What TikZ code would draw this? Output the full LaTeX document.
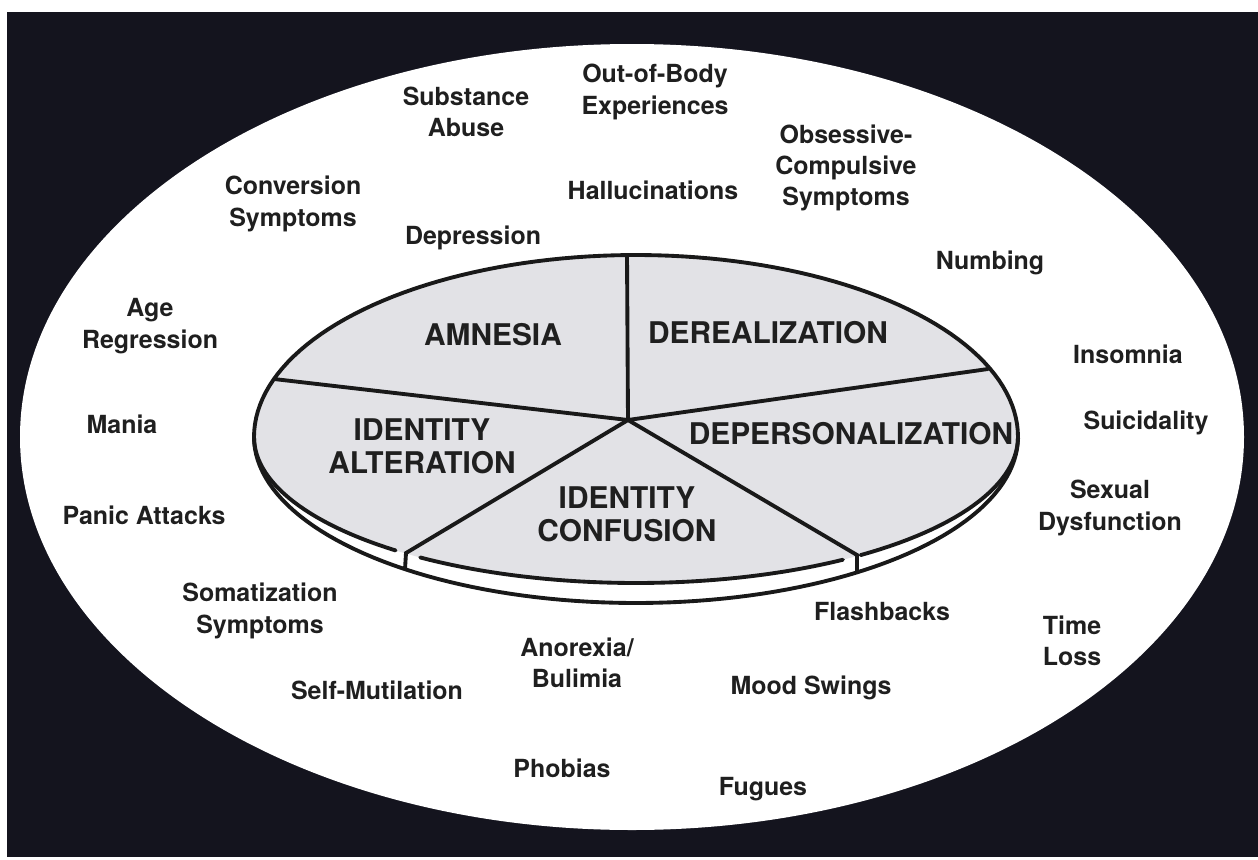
\documentclass[tikz,border=0pt]{standalone}
\usepackage{fontspec}
\setmainfont{TeX Gyre Heros}
\usepackage{tikz}
\definecolor{backdrop}{RGB}{20,20,30}
\definecolor{stipple}{RGB}{226,226,230}

\begin{document}
\begin{tikzpicture}[x=0.02cm, y=-0.02cm,
        symptom/.style={font=\fontsize{14.2}{17.8}\selectfont\bfseries, align=center, text=black!88},
        facet/.style={font=\fontsize{17}{19}\selectfont\bfseries, align=center, text=black!88},
        rim/.style={line width=2.2pt, line cap=round, draw=black!90}]
        \useasboundingbox (0,0) rectangle (1258,859);
        \fill[backdrop] (7,12) rectangle (1258,857);
        \fill[white] (632,437) ellipse [x radius=612, y radius=393];

        % pie corners
        \coordinate (c) at (628,420);
        \coordinate (e1) at (627,255);
        \coordinate (e2) at (274,379);
        \coordinate (e3) at (406,553);
        \coordinate (e4) at (857,555);
        \coordinate (e5) at (988,369);
        \coordinate (b3) at (405,569);
        \coordinate (b4) at (857,572);

        % top face of the pie
        \fill[stipple] plot[domain=0:180, samples=90] ({636+382*cos(\x)}, {437-182*sin(\x)})
            -- plot[domain=180:360, samples=90] ({636+382*cos(\x)}, {437-146*sin(\x)}) -- cycle;

        % rim and front edge
        \draw[rim] plot[domain=180:360, samples=90] ({636+382*cos(\x)}, {437-166*sin(\x)});
        \draw[rim] plot[domain=-54:0, samples=30] ({636+382*cos(\x)}, {437-146*sin(\x)})
            -- plot[domain=0:180, samples=90] ({636+382*cos(\x)}, {437-182*sin(\x)})
            -- plot[domain=180:231, samples=30] ({636+382*cos(\x)}, {437-146*sin(\x)});
        \draw[rim] plot[domain=235.6:302.8, samples=40] ({636+382*cos(\x)}, {437-146*sin(\x)});

        % slices
        \draw[rim] (c) -- (e1);
        \draw[rim] (c) -- (e2);
        \draw[rim] (c) -- (e3) -- (b3);
        \draw[rim] (c) -- (e4) -- (b4);
        \draw[rim] (c) -- (e5);

        \node[facet] (amn) at (493,335) {AMNESIA};
        \node[facet] (dereal) at (768,333) {DEREALIZATION};
        \node[facet] (idalt) at (422,446) {IDENTITY\\ALTERATION};
        \node[facet] (idconf) at (627,514) {IDENTITY\\CONFUSION};
        \node[facet] (depers) at (851,434) {DEPERSONALIZATION};

        % symptoms around the pie
        \node[symptom] (subst) at (466,112) {Substance\\Abuse};
        \node[symptom] (oob) at (655,92) {Out-of-Body\\Experiences};
        \node[symptom] (conv) at (293,204) {Conversion\\Symptoms};
        \node[symptom] (halluc) at (653,190) {Hallucinations};
        \node[symptom] (ocd) at (846,168) {Obsessive-\\Compulsive\\Symptoms};
        \node[symptom] (depr) at (473,238) {Depression};
        \node[symptom] (numb) at (990,263) {Numbing};
        \node[symptom] (agereg) at (150,326) {Age\\Regression};
        \node[symptom] (insom) at (1128,354) {Insomnia};
        \node[symptom] (mania) at (122,424) {Mania};
        \node[symptom] (suic) at (1146,423) {Suicidality};
        \node[symptom] (panic) at (144,515) {Panic Attacks};
        \node[symptom] (sexdys) at (1110,508) {Sexual\\Dysfunction};
        \node[symptom] (somat) at (260,611) {Somatization\\Symptoms};
        \node[symptom] (flash) at (882,612) {Flashbacks};
        \node[symptom] (timeloss) at (1072,641) {Time\\Loss};
        \node[symptom] (anorex) at (577,663) {Anorexia/\\Bulimia};
        \node[symptom] (selfmut) at (377,690) {Self-Mutilation};
        \node[symptom] (mood) at (811,688) {Mood Swings};
        \node[symptom] (phob) at (562,768) {Phobias};
        \node[symptom] (fugue) at (763,789) {Fugues};
    \end{tikzpicture}
\end{document}
